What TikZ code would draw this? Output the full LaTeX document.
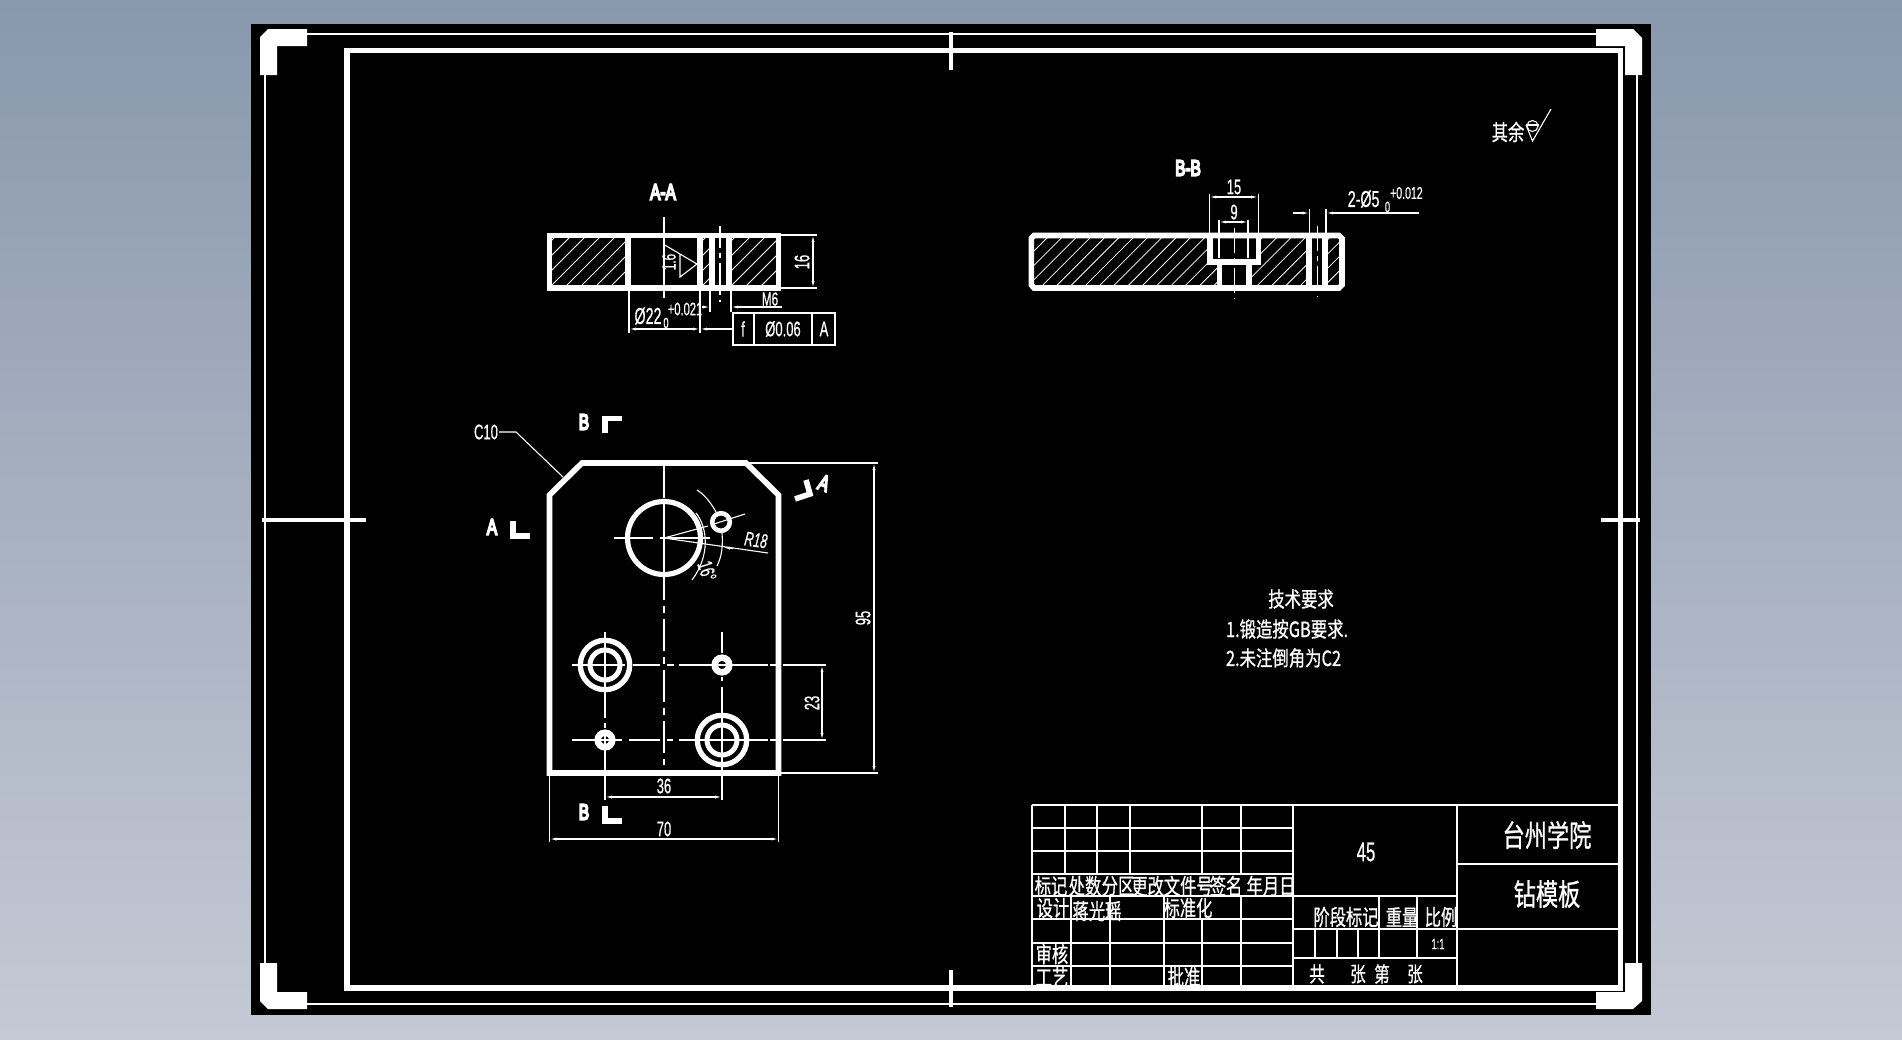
\documentclass[tikz,border=0pt]{standalone}
\usepackage{fontspec}
\usepackage{graphicx}
\setmainfont{Liberation Sans}
\newfontfamily\cjk[FakeBold=1]{Noto Sans CJK SC}
\newfontfamily\latfont[FakeBold=.8]{Liberation Sans}
\newfontfamily\blobfont[FakeBold=9]{Liberation Sans}
\usetikzlibrary{arrows.meta}
\newcommand{\lat}[2]{\scalebox{0.62}[1]{\latfont\fontsize{#1}{#1}\selectfont #2}}
\newcommand{\cn}[2]{\scalebox{.74}[1]{\cjk\fontsize{#1}{#1}\selectfont #2}}
\newcommand{\cnw}[2]{\scalebox{.78}[1]{\cjk\fontsize{#1}{#1}\selectfont #2}}
\newcommand{\blob}[1]{\scalebox{0.7}[1]{\blobfont\fontsize{22}{22}\selectfont #1}}
\tikzset{
  thin line/.style={draw=white,line width=1.1pt},
  thick line/.style={draw=white,line width=5.4pt,line join=miter},
  cut line/.style={draw=white,line width=5.6pt,line join=miter},
  centre line/.style={draw=white,line width=1.1pt,dash pattern=on 27pt off 6pt on 6pt off 6pt},
  dimline/.style={draw=white,line width=1.1pt,{Latex[length=7pt,width=3pt]}-{Latex[length=7pt,width=3pt]}},
  endarrow/.style={draw=white,line width=1.1pt,-{Latex[length=7pt,width=3pt]}},
  hatchline/.style={draw=white,line width=.8pt},
  label/.style={text=white,inner sep=0pt,outer sep=0pt,anchor=center},
}
\newcommand{\hatchrect}[5]{% x1 y1 x2 y2 spacing
  \begin{scope}
    \clip (#1,#2) rectangle (#3,#4);
    \foreach \hi in {0,...,40}{
      \draw[hatchline] ({#1-60+\hi*#5},#4) -- ++(60,-60);
    }
  \end{scope}}
\begin{document}
\begin{tikzpicture}[x=1pt,y=-1pt]
\useasboundingbox (0,0) rectangle (1902,1039);
\shade[top color={rgb,255:red,137;green,152;blue,173},bottom color={rgb,255:red,197;green,201;blue,213}] (0,0) rectangle (1902,1039);
\fill[black] (251,24) rectangle (1651,1015);

% outer thin frame
\draw[thin line] (307,34) -- (1596,34);
\draw[thin line] (307,1004) -- (1596,1004);
\draw[thin line] (265,75) -- (265,963);
\draw[thin line] (1637,75) -- (1637,963);
% corner marks
\fill[white] (260,37) -- (268,29) -- (307,29) -- (307,46) -- (277,46) -- (277,75) -- (260,75) -- cycle;
\fill[white] (1596,29) -- (1633,29) -- (1642,38) -- (1642,75) -- (1625,75) -- (1625,46) -- (1596,46) -- cycle;
\fill[white] (260,963) -- (277,963) -- (277,992) -- (307,992) -- (307,1009) -- (268,1009) -- (260,1001) -- cycle;
\fill[white] (1596,992) -- (1625,992) -- (1625,963) -- (1642,963) -- (1642,1001) -- (1633,1009) -- (1596,1009) -- cycle;
% inner thick frame
\draw[thick line] (347,50.5) rectangle (1620.5,988);
% centring ticks
\draw[draw=white,line width=4.5pt] (951,32) -- (951,70);
\draw[draw=white,line width=4.5pt] (951,970) -- (951,1007);
\draw[draw=white,line width=4.5pt] (262,520) -- (366,520);
\draw[draw=white,line width=4.5pt] (1601,520) -- (1640,520);

% ===== section A-A =====
\node[label] (secA) at (663,192) {\blob{A-A}};
\hatchrect{552}{238}{625}{285}{15}
\hatchrect{703}{238}{709}{285}{15}
\hatchrect{732}{238}{776}{285}{15}
\draw[cut line] (549.5,235.5) rectangle (778.5,288);
\foreach \xx in {628,700,712,729}{\draw[cut line] (\xx,235.5) -- (\xx,288);}
\draw[thin line] (664,217) -- (664,298);
\draw[centre line,dash pattern=on 22pt off 5pt on 5pt off 5pt] (720,226) -- (720,302);
\draw[thin line] (663,244) -- (697,264) -- (680,277) -- (680,254);
\node[label,rotate=90] (rough) at (669,262) {\lat{19}{1.6}};
% dim 16
\draw[thin line] (781,235) -- (817,235);
\draw[thin line] (781,288) -- (817,288);
\draw[dimline] (813,235) -- (813,288);
\node[label,rotate=90] (d16) at (802,262) {\lat{21}{16}};
% M6
\node[label] (m6) at (770,299) {\lat{19}{M6}};
\draw[thin line] (710,291) -- (710,312);
\draw[thin line] (731,291) -- (731,312);
\coordinate (m6a) at (702,307);\coordinate (m6b) at (710,307);
\coordinate (m6c) at (782,307);\coordinate (m6d) at (731,307);
\draw[endarrow] (m6a) -- (m6b);
\draw[endarrow] (m6c) -- (m6d);
% phi 22
\draw[thin line] (629,291) -- (629,333);
\draw[thin line] (700,291) -- (700,333);
\draw[dimline] (629,329) -- (700,329);
\coordinate (boxL) at (733,329);
\draw[endarrow] (boxL) -- (700,329);
\node[label] (d22) at (648,316) {\lat{23}{Ø22}};
\node[label] (d22u) at (685,309) {\lat{18}{+0.021}};
\node[label] (d22l) at (666,323) {\lat{15}{0}};
% feature box
\draw[thin line] (733,313) rectangle (835,345);
\draw[thin line] (754,313) -- (754,345);
\draw[thin line] (812,313) -- (812,345);
\node[label] (fa) at (743,329) {\lat{21}{f}};
\node[label] (fb) at (783,329) {\lat{21}{Ø0.06}};
\node[label] (fc) at (824,329) {\lat{21}{A}};

% ===== section B-B =====
\node[label] (secB) at (1188,168) {\blob{B-B}};
\begin{scope}
\clip (1034,238) -- (1207,238) -- (1207,264) -- (1217,264) -- (1217,285) -- (1034,285) -- cycle;
\foreach \hi in {0,...,20}{\draw[hatchline] ({1000+\hi*14.3},285) -- ++(47,-47);}
\end{scope}
\begin{scope}
\clip (1261,238) -- (1306,238) -- (1306,285) -- (1252,285) -- (1252,264) -- (1261,264) -- cycle;
\foreach \hi in {0,...,10}{\draw[hatchline] ({1215+\hi*14.3},285) -- ++(47,-47);}
\end{scope}
\hatchrect{1328}{238}{1339.5}{285}{14.3}
\draw[cut line] (1034,235.5) -- (1339,235.5) -- (1342,238.5) -- (1342,285) -- (1339,288) -- (1034,288) -- (1031.3,285) -- (1031.3,238.5) -- cycle;
\draw[cut line] (1210,235.5) -- (1210,262) -- (1258.5,262) -- (1258.5,235.5);
\draw[cut line] (1219.5,262) -- (1219.5,288);
\draw[cut line] (1249,262) -- (1249,288);
\draw[cut line] (1309,235.5) -- (1309,288);
\draw[cut line] (1325,235.5) -- (1325,288);
\draw[centre line,dash pattern=on 25pt off 5pt on 5pt off 5pt] (1234.3,228) -- (1234.3,299);
\draw[centre line,dash pattern=on 25pt off 5pt on 5pt off 5pt] (1317.5,226) -- (1317.5,297);
% dim 15 / 9
\draw[thin line] (1209.3,194) -- (1209.3,233);
\draw[thin line] (1258.2,194) -- (1258.2,233);
\draw[dimline] (1209.3,197) -- (1258.2,197);
\node[label] (d15) at (1234,187) {\lat{21}{15}};
\draw[thin line] (1219,220) -- (1219,258);
\draw[thin line] (1248,220) -- (1248,258);
\draw[dimline] (1219,222) -- (1248,222);
\node[label] (d9) at (1234,212) {\lat{21}{9}};
% 2-phi5
\draw[thin line] (1309.3,209) -- (1309.3,233);
\draw[thin line] (1326,209) -- (1326,233);
\coordinate (p5a) at (1293,213);\coordinate (p5b) at (1309.3,213);
\coordinate (p5c) at (1419,213);\coordinate (p5d) at (1326,213);
\draw[endarrow] (p5a) -- (p5b);
\draw[endarrow] (p5c) -- (p5d);
\node[label] (d5) at (1363.6,199) {\lat{23}{2-Ø5}};
\node[label] (d5u) at (1406.4,193) {\lat{17}{+0.012}};
\node[label] (d5l) at (1387.5,207) {\lat{15}{0}};
% rest roughness
\node[label] (rest) at (1508,132) {\cn{22}{其余}};
\draw[thin line] (1532.5,126) circle (5.5);
\draw[thin line] (1526,125) -- (1532.5,141) -- (1551,109);
\draw[thin line] (1526,125) -- (1539,125);

% ===== plan view =====
\draw[cut line] (549.5,495) -- (582,463) -- (746,463) -- (778.5,495) -- (778.5,773) -- (549.5,773) -- cycle;
\draw[centre line,dash pattern=on 32pt off 6pt on 7pt off 6pt] (664,466) -- (664,765);
\draw[draw=white,line width=5.2pt] (664,538) circle (36.5);
\draw[thin line] (614,538) -- (653,538);
\draw[thin line] (660,538) -- (710,538);
\draw[thin line] (664,505) -- (664,590);
\draw[draw=white,line width=4.6pt] (721,522) circle (8.8);
\draw[thin line] (664,538) -- (708,526);
\draw[thin line] (714,524) -- (745,514);
\draw[thin line] (664,538) -- (768,553);
\coordinate (r18a) at (733,548.5);\coordinate (r18b) at (723,547.3);
\draw[endarrow] (r18a) -- (r18b);
\node[label,rotate=-8] (r18) at (756,540) {\lat{20}{\itshape R18}};
\draw[thin line] (696,513) .. controls (708,528) and (710,556) .. (692,580);
\draw[thin line] (697,490) .. controls (705,495) and (711,503) .. (716,512);
\draw[thin line] (722,533) .. controls (723,545) and (722,556) .. (717,566);
\node[label,rotate=-72] (a16) at (707,571) {\lat{21}{16°}};
% C10
\node[label] (c10) at (486,432) {\lat{21}{C10}};
\draw[thin line] (499,432) -- (516,432) -- (563,477);
% view marks
\node[label] (mb1) at (584,422) {\blob{B}};
\draw[draw=white,line width=5.6pt,line join=miter] (605,433) -- (605,418.5) -- (622,418.5);
\node[label] (ma1) at (492,527) {\blob{A}};
\draw[draw=white,line width=5.6pt,line join=miter] (513,521) -- (513,536) -- (530,536);
\node[label,rotate=-20] (ma2) at (824,483) {\blob{A}};
\draw[draw=white,line width=5.6pt,line join=miter] (795,499) -- (810,494) -- (806,480);
\node[label] (mb2) at (584,812) {\blob{B}};
\draw[draw=white,line width=5.6pt,line join=miter] (605,806) -- (605,821) -- (622,821);
% dim 95
\draw[thin line] (746,463) -- (878,463);
\draw[thin line] (781,773) -- (878,773);
\draw[dimline] (874,463) -- (874,773);
\node[label,rotate=90] (d95) at (863,618) {\lat{21}{95}};
% holes
\draw[draw=white,line width=5.3pt] (605,665) circle (24.7);
\draw[draw=white,line width=5pt] (605,665) circle (15);
\draw[draw=white,line width=6.5pt] (722,665) circle (7.3);
\draw[draw=white,line width=5.3pt] (722,740) circle (24.7);
\draw[draw=white,line width=5pt] (722,740) circle (15);
\draw[draw=white,line width=6.5pt] (605,740) circle (7.3);
% centre lines of the holes
\foreach \xa/\xb in {572/625,633/660,667/674,679/768,770/777,783/826}{\draw[thin line] (\xa,665) -- (\xb,665);}
\foreach \xa/\xb in {572/622,629/660,667/673,679/768,770/777,783/826}{\draw[thin line] (\xa,740) -- (\xb,740);}
\foreach \ya/\yb in {632/718,723/728,735/772}{\draw[thin line] (605,\ya) -- (605,\yb);}
\foreach \ya/\yb in {632/653,677/681,687/772}{\draw[thin line] (722,\ya) -- (722,\yb);}
% dim 23
\draw[dimline] (822,665) -- (822,740);
\node[label,rotate=90] (d23) at (812,703) {\lat{21}{23}};
% dim 36
\draw[thin line] (605,776) -- (605,800);
\draw[thin line] (722,776) -- (722,800);
\draw[dimline] (605,797) -- (722,797);
\node[label] (d36) at (664,786) {\lat{21}{36}};
% dim 70
\draw[thin line] (549.5,776) -- (549.5,842);
\draw[thin line] (778.5,776) -- (778.5,842);
\draw[dimline] (549.5,839) -- (778.5,839);
\node[label] (d70) at (664,829) {\lat{21}{70}};

% ===== notes =====
\node[label] (n0) at (1301,599) {\cnw{21}{技术要求}};
\node[label,anchor=west] (n1) at (1226,629) {\cnw{21}{1.锻造按GB要求.}};
\node[label,anchor=west] (n2) at (1226,658) {\cnw{21}{2.未注倒角为C2}};

% ===== title block =====
\draw[thin line] (1032,805) -- (1618,805);
\foreach \yy in {828,851,874}{\draw[thin line] (1032,\yy) -- (1293,\yy);}
\draw[thin line] (1032,896) -- (1457,896);
\foreach \yy in {919,943,966}{\draw[thin line] (1032,\yy) -- (1293,\yy);}
\draw[thin line] (1293,929) -- (1618,929);
\draw[thin line] (1293,958) -- (1457,958);
\draw[thin line] (1457,864) -- (1618,864);
\draw[thin line] (1032,805) -- (1032,985);
\draw[thin line] (1293,805) -- (1293,985);
\draw[thin line] (1457,805) -- (1457,985);
\foreach \xx in {1065,1097,1130,1202,1241}{\draw[thin line] (\xx,805) -- (\xx,874);}
\foreach \xx in {1071,1110,1164,1241}{\draw[thin line] (\xx,896) -- (\xx,985);}
\draw[thin line] (1202,919) -- (1202,985);
\foreach \xx in {1379,1417}{\draw[thin line] (\xx,896) -- (\xx,958);}
\foreach \xx in {1315,1337,1358}{\draw[thin line] (\xx,929) -- (\xx,958);}
\node[label] (t1) at (1051,886) {\cn{22}{标记}};
\node[label] (t2) at (1085,886) {\cn{22}{处数}};
\node[label] (t3) at (1118,886) {\cn{22}{分区}};
\node[label] (t4) at (1172,886) {\cn{22}{更改文件号}};
\node[label] (t5) at (1226,886) {\cn{22}{签名}};
\node[label] (t6) at (1271,886) {\cn{22}{年月日}};
\node[label] (t7) at (1053,908) {\cn{22}{设计}};
\node[label] (t8) at (1097,911) {\cn{22}{蒋光瑶}};
\node[label] (t9) at (1188,908) {\cn{22}{标准化}};
\node[label] (t10) at (1052,954) {\cn{22}{审核}};
\node[label] (t11) at (1052,977) {\cn{22}{工艺}};
\node[label] (t12) at (1184,977) {\cn{22}{批准}};
\node[label] (t13) at (1366,852) {\lat{27}{45}};
\node[label] (t14) at (1547,835) {\cn{30}{台州学院}};
\node[label] (t15) at (1547,894) {\cn{30}{钻模板}};
\node[label] (t16) at (1346,917) {\cn{22}{阶段标记}};
\node[label] (t17) at (1402,917) {\cn{22}{重量}};
\node[label] (t18) at (1441,917) {\cn{22}{比例}};
\node[label] (t19) at (1438,944) {\lat{15}{1:1}};
\node[label] (t20) at (1317,974) {\cn{21}{共}};
\node[label] (t21) at (1358,974) {\cn{21}{张}};
\node[label] (t22) at (1382,974) {\cn{21}{第}};
\node[label] (t23) at (1415,974) {\cn{21}{张}};
\end{tikzpicture}
\end{document}
